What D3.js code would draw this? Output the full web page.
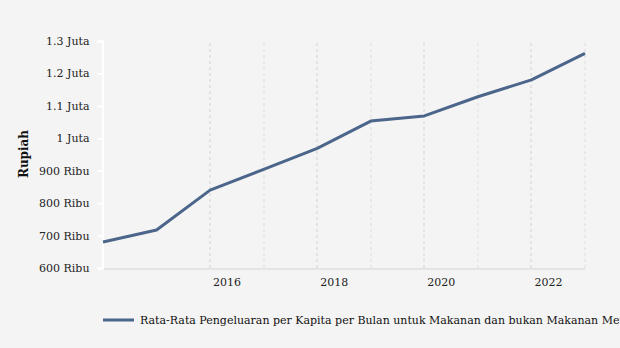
<!DOCTYPE html>
<html><head><meta charset="utf-8">
<script src="https://cdn.jsdelivr.net/npm/d3@7"></script>
<style>body{margin:0;background:#f4f4f4;}svg{display:block;}</style>
</head><body>
<svg id="c" width="620" height="348"></svg>
<script>
const years = [2014,2015,2016,2017,2018,2019,2020,2021,2022,2023];
const values = [680000,717000,840000,904000,969000,1053000,1069000,1128000,1180000,1262000];
const yTicks = [600000,700000,800000,900000,1000000,1100000,1200000,1300000];
const yTickLabels = ["600 Ribu","700 Ribu","800 Ribu","900 Ribu","1 Juta","1.1 Juta","1.2 Juta","1.3 Juta"];
const xLabelYears = [2016,2018,2020,2022];
const gridYears = [2016,2017,2018,2019,2020,2021,2022,2023];
const seriesName = "Rata-Rata Pengeluaran per Kapita per Bulan untuk Makanan dan bukan Makanan Menurut Kabupaten/Kota";

const svg = d3.select("#c");
const font = "DejaVu Serif, serif";
const x = d3.scaleLinear().domain([2014,2023]).range([103,585]);
const y = d3.scaleLinear().domain([600000,1300000]).range([268,41]);

// gridlines
svg.append("g").selectAll("line").data(gridYears).join("line")
  .attr("x1",d=>Math.round(x(d))).attr("x2",d=>Math.round(x(d))).attr("y1",43).attr("y2",268)
  .attr("stroke",d=>d%2===0?"#e3e3e3":"#e9e9e9").attr("stroke-width",2)
  .attr("stroke-dasharray","3,3");

// bottom axis line
svg.append("line").attr("x1",103).attr("x2",585).attr("y1",269).attr("y2",269)
  .attr("stroke","#e4e4e4").attr("stroke-width",2);

// y axis
const ya = svg.append("g").attr("transform","translate(102.5,0)")
  .call(d3.axisLeft(y).tickValues(yTicks).tickFormat((d,i)=>yTickLabels[i]).tickSize(5).tickPadding(8));
ya.select(".domain").attr("stroke","#ffffff").attr("stroke-width",2);
ya.selectAll(".tick line").attr("stroke","#ffffff").attr("stroke-width",2);
ya.selectAll("text").attr("font-family",font).attr("font-size",11).attr("fill","#222");

// x labels
svg.append("g").selectAll("text").data(xLabelYears).join("text")
  .attr("x",d=>x(d)+17).attr("y",286).attr("text-anchor","middle")
  .attr("font-family",font).attr("font-size",11).attr("fill","#222").text(d=>d);

// y title
svg.append("text").attr("transform","translate(28,154) rotate(-90)")
  .attr("text-anchor","middle").attr("font-family",font).attr("font-size",12)
  .attr("font-weight","bold").attr("fill","#111").text("Rupiah");

// line
const line = d3.line().x((d,i)=>x(years[i])).y(d=>y(d));
svg.append("path").datum(values).attr("d",line).attr("fill","none")
  .attr("stroke","#4b658b").attr("stroke-width",3).attr("stroke-linejoin","round");

// legend
svg.append("line").attr("x1",103).attr("x2",134).attr("y1",320).attr("y2",320)
  .attr("stroke","#4b658b").attr("stroke-width",3);
svg.append("text").attr("x",140).attr("y",324).attr("font-family",font).attr("font-size",11)
  .attr("fill","#111").text(seriesName);
</script>
</body></html>
